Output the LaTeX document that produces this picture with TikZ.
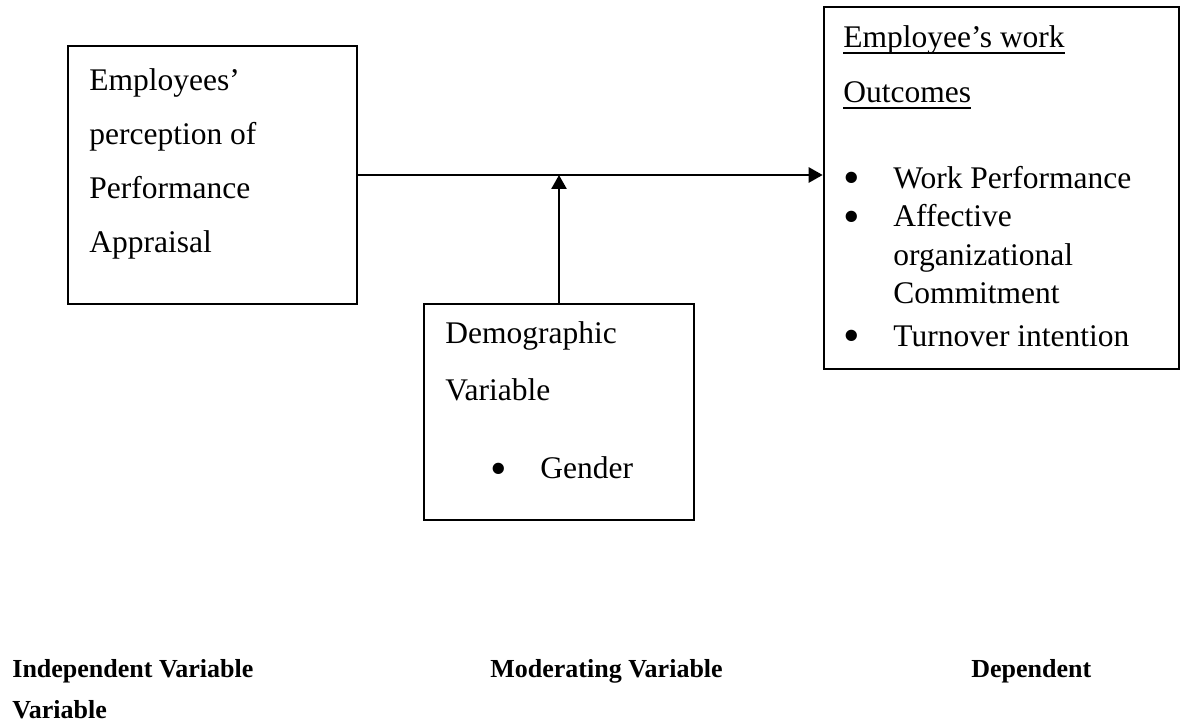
\documentclass[tikz,border=0pt]{standalone}
\usepackage{fontspec}
\setmainfont{Liberation Serif}
\usepackage{tikz}
\usetikzlibrary{arrows.meta, positioning}

\newcommand{\ulword}[1]{\setbox0\hbox{#1}\rlap{\rule[-2.9pt]{\wd0}{0.7pt}}\box0}
\newcommand{\bitem}{\makebox[23.25pt][l]{\hspace*{-1.65pt}\smash{\raisebox{-2.8pt}{\scalebox{1.5}{\textbullet}}}}}

\begin{document}
\begin{tikzpicture}[
x=0.5pt, y=-0.5pt,
box/.style={rectangle, draw, line width=1.3pt, inner sep=0pt},
txt/.style={anchor=north west, align=left, inner sep=0pt},
lbl/.style={anchor=base west, inner sep=0pt, font=\fontsize{13}{20}\selectfont\bfseries},
arrow/.style={-{Triangle[length=7pt, width=7.5pt]}, line width=1.3pt}
]
\useasboundingbox (0,0) rectangle (1181,721);

    % boxes
    \node[box, minimum width=144.5pt, minimum height=129pt] (indep) at (212.5,175) {};
    \node[box, minimum width=135pt, minimum height=108pt] (moder) at (559,412) {};
    \node[box, minimum width=177.5pt, minimum height=181pt] (outc) at (1001.5,188) {};

    % box texts
    \node[txt, font=\fontsize{15.75}{27}\selectfont] (indeptxt) at (89,68.5)
        {Employees’\\perception of\\Performance\\Appraisal};
    \node[txt, font=\fontsize{15.75}{28.5}\selectfont] (modertxt) at (445,321.5)
        {Demographic\\Variable\\[10.5pt]\hspace*{24.25pt}\bitem Gender};
    \node[txt, font=\fontsize{15.75}{27.5}\selectfont] (outchead) at (843,25.5)
        {\ulword{Employee’s work}\\\ulword{Outcomes}};
    \node[txt, font=\fontsize{15.75}{19.25}\selectfont] (outclist) at (846.5,165.5)
        {\bitem Work Performance\\
         \bitem Affective\\
         \hspace*{23.25pt}organizational\\
         \hspace*{23.25pt}Commitment\\[2pt]
         \bitem Turnover intention};

    % labels
    \node[lbl] (indeplbl) at (12,677) {Independent Variable};
    \node[lbl] (moderlbl) at (490,677) {Moderating Variable};
    \node[lbl] (depnlbl) at (971,677) {Dependent};
    \node[lbl] (depnlbl2) at (12,718) {Variable};

    % arrows
    \draw[arrow] (indep.east) -- (indep.east -| outc.west);
    \draw[arrow] (moder.north) -- (moder.north |- indep.east);

\end{tikzpicture}
\end{document}
